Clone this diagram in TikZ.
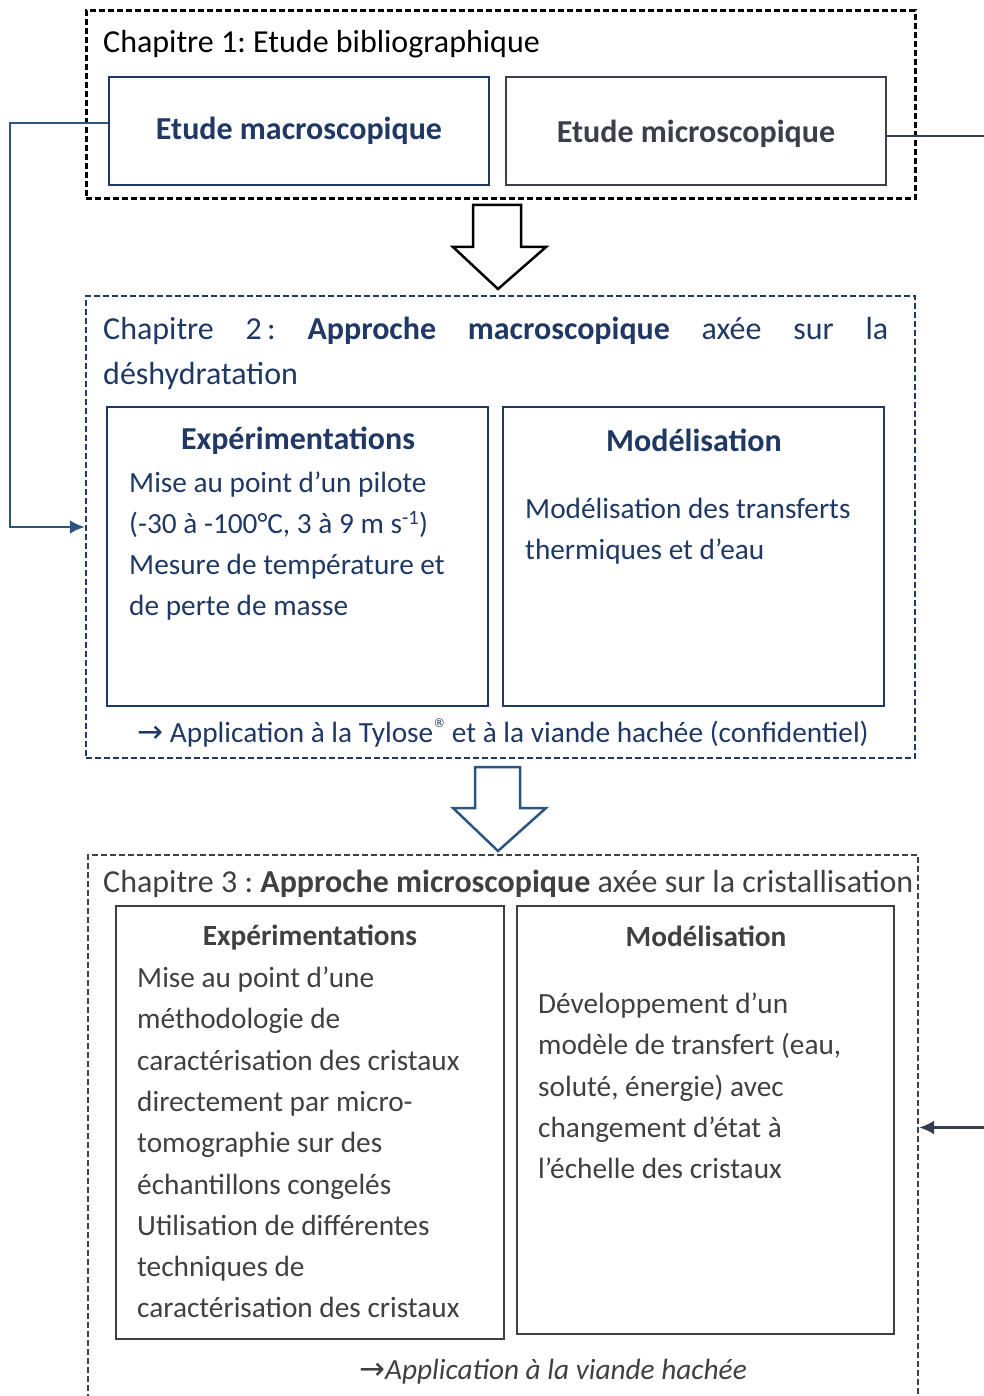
\documentclass[tikz,border=0pt]{standalone}
\usepackage{fontspec}
\setmainfont{Carlito}
\newfontfamily\symfont{DejaVu Sans}
\usepackage{xcolor}
\usetikzlibrary{arrows.meta, positioning, calc}

\definecolor{navy}{RGB}{31,56,100}
\definecolor{slate}{RGB}{59,63,75}
\definecolor{linkblue}{RGB}{46,84,130}
\definecolor{greytxt}{RGB}{64,64,64}
\definecolor{linkgrey}{RGB}{51,63,80}

\newcommand{\bodysize}{\fontsize{29.3}{41.3}\selectfont}
\newcommand{\headsize}{\fontsize{32}{45}\selectfont}
\newcommand{\arr}{{\symfont\fontsize{31}{30}\selectfont →}}
\newcommand{\regmark}{\raisebox{1.05ex}{\symfont\fontsize{12}{12}\selectfont ®}}
\frenchspacing

\begin{document}
\begin{tikzpicture}[x=1pt, y=-1pt,
				chapbox/.style={draw, dash pattern=on 6pt off 3pt, inner sep=0pt},
				box/.style={draw, line width=2.5pt, inner sep=0pt},
				txt/.style={inner sep=0pt, align=left, font=\bodysize},
				head/.style={inner sep=0pt, font=\headsize\bfseries},
				link/.style={line width=2.5pt, -{Latex[length=15pt, width=14pt]}}
				]
				\path[use as bounding box] (0,0) rectangle (984,1396);
				\clip (0,0) rectangle (984,1396);

				% chapitre 1
				\node[chapbox, line width=3pt, minimum width=829pt, minimum height=188pt] (chap1) at (500.5,105) {};
				\node[txt, font=\headsize, anchor=west] (title1) at (103,44) {Chapitre 1: Etude bibliographique};
				\node[box, navy, minimum width=380pt, minimum height=108pt] (macro) at (299,131) {};
				\node[head, navy] at (299,131) {Etude macroscopique};
				\node[box, slate, minimum width=380pt, minimum height=108pt] (micro) at (696,131) {};
				\node[head, slate] at (696,134) {Etude microscopique};

				% fleche 1
				\draw[line width=2.5pt, fill=white] (473,205) -- (521,205) -- (521,247) -- (546,247)
					-- (498,289) -- (453,247) -- (473,247) -- cycle;

				% chapitre 2
				\node[chapbox, navy, line width=2.5pt, minimum width=829pt, minimum height=462pt] (chap2) at (500.5,527) {};
				\node[txt, font=\headsize, navy, anchor=west] (title2) at (103,353.5)
					{\makebox[785pt][s]{Chapitre 2\,: \textbf{Approche macroscopique} axée sur la}\\déshydratation};
				\node[box, navy, minimum width=381pt, minimum height=299pt] (exp2) at (297.5,556.5) {};
				\node[head, navy] at (298,441) {Expérimentations};
				\node[txt, navy, anchor=west] at (129,546)
					{Mise au point d’un pilote\\(-30 à -100°C, 3 à 9 m s\textsuperscript{-1})\\Mesure de température et\\de perte de masse};
				\node[box, navy, minimum width=381pt, minimum height=299pt] (mod2) at (693.5,556.5) {};
				\node[head, navy] at (694,440) {Modélisation};
				\node[txt, navy, anchor=west] at (525,531.5)
					{Modélisation des transferts\\thermiques et d’eau};
				\node[txt, navy] (appl2) at (503,733) {\arr\ Application à la Tylose\regmark{} et à la viande hachée (confidentiel)};

				% fleche 2
				\draw[linkblue, line width=2.5pt, fill=white] (475,767) -- (520,767) -- (520,808) -- (546,808)
					-- (498,851) -- (453,808) -- (475,808) -- cycle;

				% chapitre 3
				\node[chapbox, greytxt, line width=2.2pt, minimum width=830pt, minimum height=555pt] (chap3) at (503,1132.5) {};
				\node[txt, font=\headsize, greytxt, anchor=west] (title3) at (103,884)
					{Chapitre 3 : \textbf{Approche microscopique} axée sur la cristallisation};
				\node[box, greytxt, minimum width=388pt, minimum height=433pt] (exp3) at (310,1122.5) {};
				\node[head, greytxt, font=\bodysize\bfseries] at (310,937) {Expérimentations};
				\node[txt, greytxt, anchor=west] at (137,1142.5)
					{Mise au point d’une\\méthodologie de\\caractérisation des cristaux\\directement par micro-\\tomographie sur des\\échantillons congelés\\Utilisation de différentes\\techniques de\\caractérisation des cristaux};
				\node[box, greytxt, minimum width=377pt, minimum height=428pt] (mod3) at (705.5,1120) {};
				\node[head, greytxt, font=\bodysize\bfseries] at (706,936) {Modélisation};
				\node[txt, greytxt, anchor=west] at (538,1086)
					{Développement d’un\\modèle de transfert (eau,\\soluté, énergie) avec\\changement d’état à\\l’échelle des cristaux};
				\node[txt, greytxt] (appl3) at (553,1372) {\arr\textit{Application à la viande hachée}};

				% liaisons
				\draw[link, linkblue] ([yshift=8pt]macro.west) -| (10,400) |- (chap2.west);
				\draw[link, linkgrey] ([yshift=-5pt]micro.east) -| (1000,600) |- ([yshift=5pt]chap3.east);
			\end{tikzpicture}
\end{document}
